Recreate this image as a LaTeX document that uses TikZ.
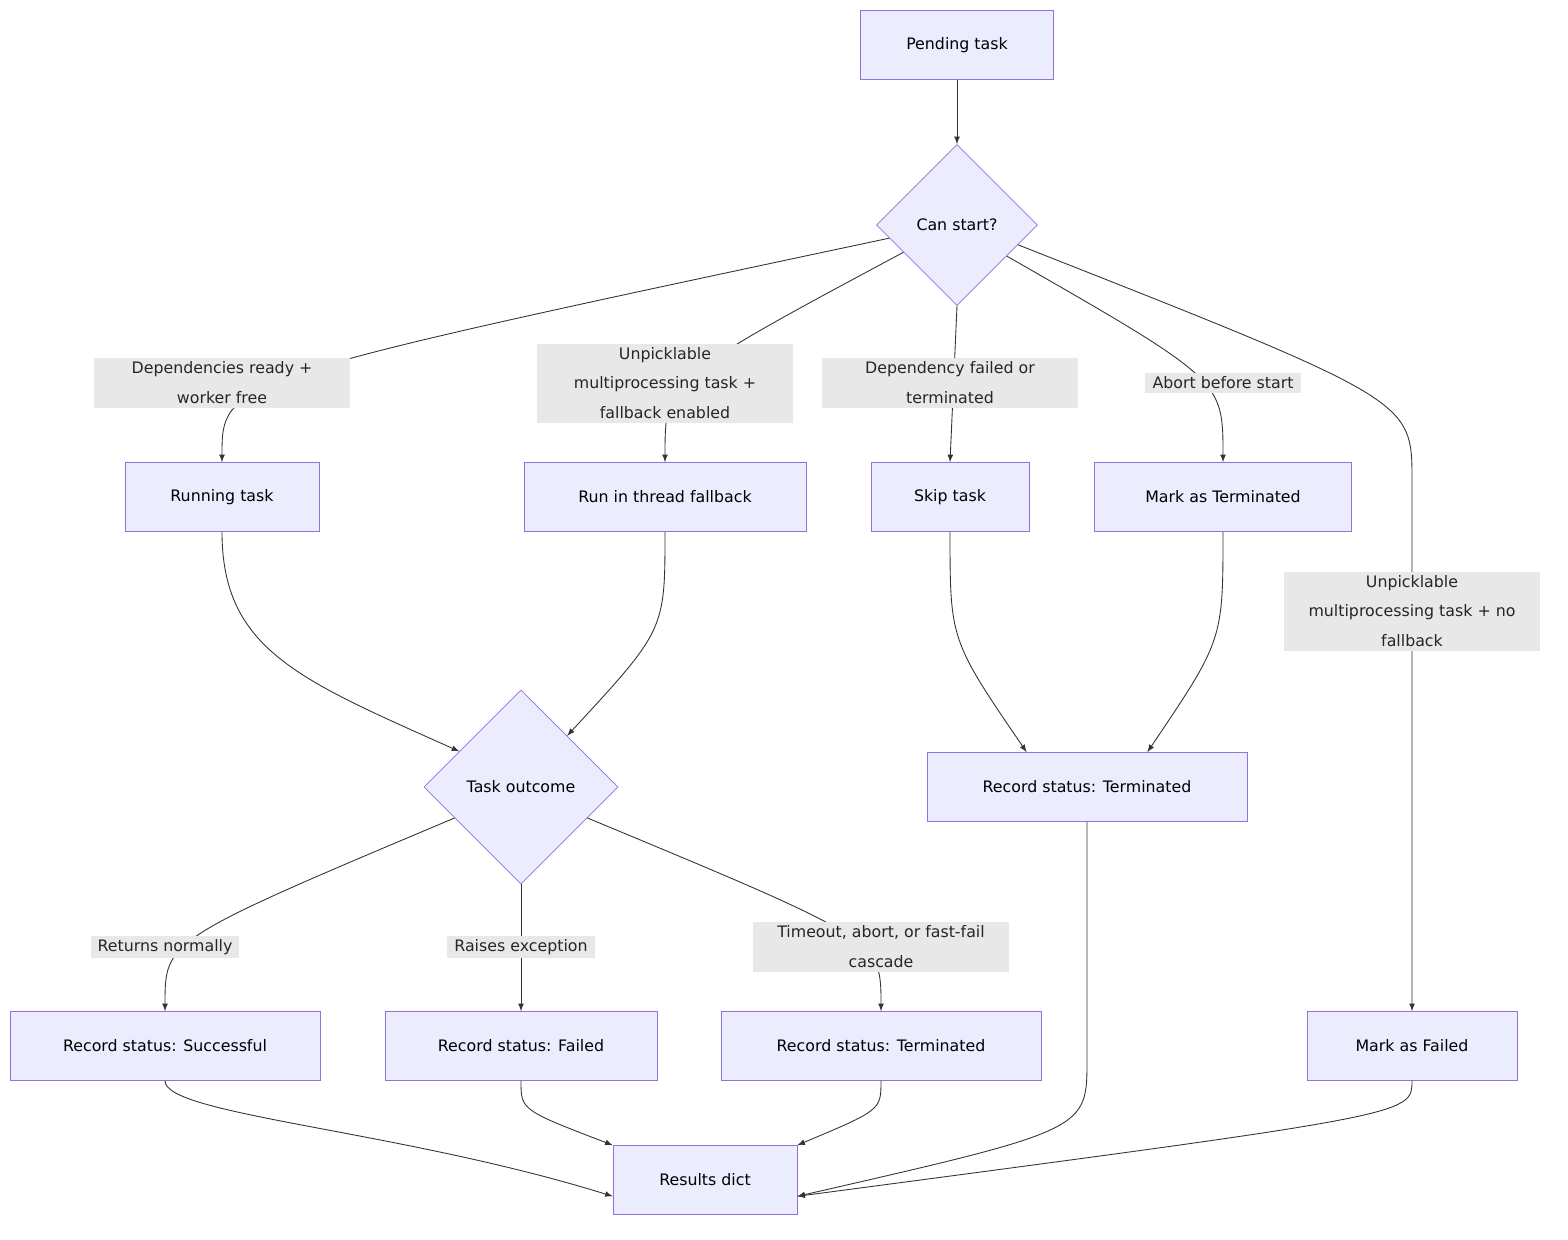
\documentclass[tikz,border=0pt]{standalone}
\usepackage{fontspec}
\setmainfont{DejaVu Sans}
\usetikzlibrary{shapes.geometric, arrows}
\definecolor{boxfill}{HTML}{ECECFF}
\definecolor{boxline}{HTML}{9370DB}
\definecolor{edgeline}{HTML}{333333}
\definecolor{labelfill}{HTML}{E8E8E8}
\tikzstyle{process} = [rectangle, minimum height=1.38cm, inner sep=0.1cm, text centered, draw=boxline, fill=boxfill, font=\fontsize{9}{13}\selectfont]
\tikzstyle{decision} = [diamond, inner sep=0pt, text centered, draw=boxline, fill=boxfill, font=\fontsize{9}{13}\selectfont]
\tikzstyle{edgelabel} = [fill=labelfill, align=center, inner xsep=4pt, inner ysep=2pt, font=\fontsize{9}{17}\selectfont, text=black!85]
\tikzstyle{arrow} = [draw=edgeline, ->, >=latex, line width=0.5pt]

\begin{document}
\begin{tikzpicture} [x=0.02cm, y=-0.02cm]
        \useasboundingbox (0,0) rectangle (1568,1240);
        \node (pending) [process, minimum width=3.86cm] at (957,45) {Pending task};
        \node (canstart) [decision, minimum width=3.22cm, minimum height=3.22cm] at (957,225) {Can start?};
        \node (running) [process, minimum width=3.88cm] at (222,497) {Running task};
        \node (thread) [process, minimum width=5.64cm] at (665,497) {Run in thread fallback};
        \node (skip) [process, minimum width=3.16cm] at (950,497) {Skip task};
        \node (markterm) [process, minimum width=5.14cm] at (1223,497) {Mark as Terminated};
        \node (outcome) [decision, minimum width=3.88cm, minimum height=3.88cm] at (521,787) {Task outcome};
        \node (recterm1) [process, minimum width=6.4cm] at (1087,787) {Record status: Terminated};
        \node (success) [process, minimum width=6.2cm] at (165,1046) {Record status: Successful};
        \node (failed) [process, minimum width=5.44cm] at (521,1046) {Record status: Failed};
        \node (recterm2) [process, minimum width=6.4cm] at (881,1046) {Record status: Terminated};
        \node (markfailed) [process, minimum width=4.2cm] at (1412,1046) {Mark as Failed};
        \node (results) [process, minimum width=3.68cm] at (705,1180) {Results dict};

        \draw[arrow] (pending) -- (canstart);
        \draw[arrow] (canstart.191) .. controls (222,380) .. (running.north);
        \draw[arrow] (canstart.207) .. controls (665,380) .. (thread.north);
        \draw[arrow] (canstart.south) -- (skip.north);
        \draw[arrow] (canstart.328) .. controls (1223,380) .. (markterm.north);
        \draw[arrow] (canstart.342) .. controls (1412,400) .. (1412,480) -- (markfailed.north);
        \draw[arrow] (running.south) .. controls (222,650) and (300,680) .. (outcome.150);
        \draw[arrow] (thread.south) .. controls (665,630) .. (outcome.48);
        \draw[arrow] (skip.south) .. controls (950,640) .. (recterm1.150);
        \draw[arrow] (markterm.south) .. controls (1223,640) .. (recterm1.30);
        \draw[arrow] (outcome.205) .. controls (165,940) .. (success.north);
        \draw[arrow] (outcome.south) -- (failed.north);
        \draw[arrow] (outcome.335) .. controls (881,940) .. (recterm2.north);
        \draw[arrow] (success.south) .. controls (165,1115) and (400,1130) .. (results.190);
        \draw[arrow] (failed.south) .. controls (521,1110) .. (results.north west);
        \draw[arrow] (recterm2.south) .. controls (881,1110) .. (results.north east);
        \draw[arrow] (recterm1.south) -- (1087,1060) .. controls (1087,1130) .. (results.-10);
        \draw[arrow] (markfailed.south) .. controls (1412,1115) .. (results.-10);

        \node (l1) [edgelabel, minimum width=5.14cm] at (222,383) {Dependencies ready +\\worker free};
        \node (l2) [edgelabel, minimum width=5.14cm] at (665,383) {Unpicklable\\multiprocessing task +\\fallback enabled};
        \node (l3) [edgelabel, minimum width=5.14cm] at (950,383) {Dependency failed or\\terminated};
        \node (l4) [edgelabel] at (1223,383) {Abort before start};
        \node (l5) [edgelabel, minimum width=5.14cm] at (1412,611) {Unpicklable\\multiprocessing task + no\\fallback};
        \node (l6) [edgelabel] at (165,947) {Returns normally};
        \node (l7) [edgelabel] at (521,947) {Raises exception};
        \node (l8) [edgelabel, minimum width=5.14cm] at (881,947) {Timeout, abort, or fast-fail\\cascade};
    \end{tikzpicture}
\end{document}
